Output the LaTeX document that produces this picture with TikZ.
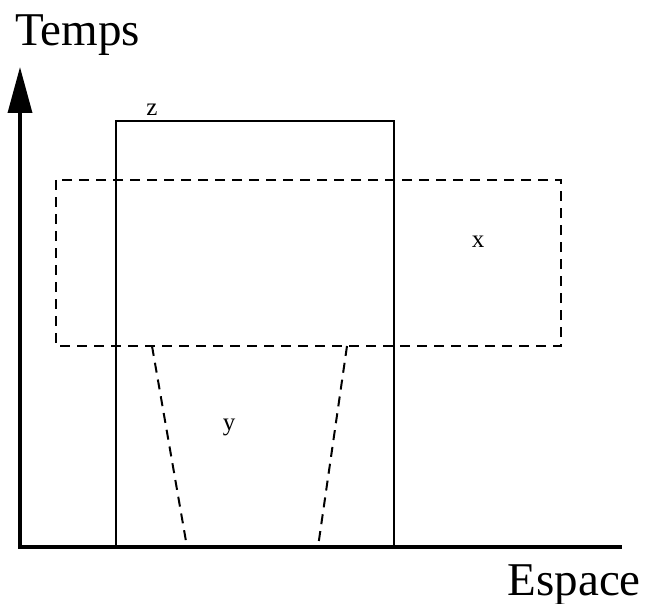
\documentclass[tikz,border=0pt]{standalone}
\usepackage{fontspec}
\setmainfont{Liberation Serif}
\usetikzlibrary{arrows.meta}
\begin{document}
\begin{tikzpicture}[x=1pt,y=-1pt,
  axis/.style={line width=3.5pt},
  solidbox/.style={line width=2pt},
  dashbox/.style={line width=2pt,dash pattern=on 10pt off 7pt},
  big/.style={font=\fontsize{47}{52}\selectfont,inner sep=0pt},
  small/.style={font=\fontsize{25}{29}\selectfont,inner sep=0pt}]
\useasboundingbox (0,0) rectangle (650,604);
\coordinate (O) at (20,547);
\coordinate (T) at (20,67);
\coordinate (E) at (622,547);
\draw[axis,-{Triangle[length=46pt,width=24pt]}] (O) -- (T);
\draw[axis] ([xshift=-2pt]O) -- (E);
\draw[solidbox] (116,547) -- (116,121) -- (394,121) -- (394,547);
\draw[dashbox] (56,180) rectangle (561,346);
\draw[dashbox] (152,346) -- (187,547);
\draw[dashbox] (347,346) -- (318,547);
\node[big,anchor=base west] (temps) at (15,46) {Temps};
\node[big,anchor=base east] (espace) at (641,595) {Espace};
\node[small,anchor=base] (z) at (152,116) {z};
\node[small,anchor=base] (x) at (478,247) {x};
\node[small,anchor=base] (y) at (229,430) {y};
\end{tikzpicture}
\end{document}
